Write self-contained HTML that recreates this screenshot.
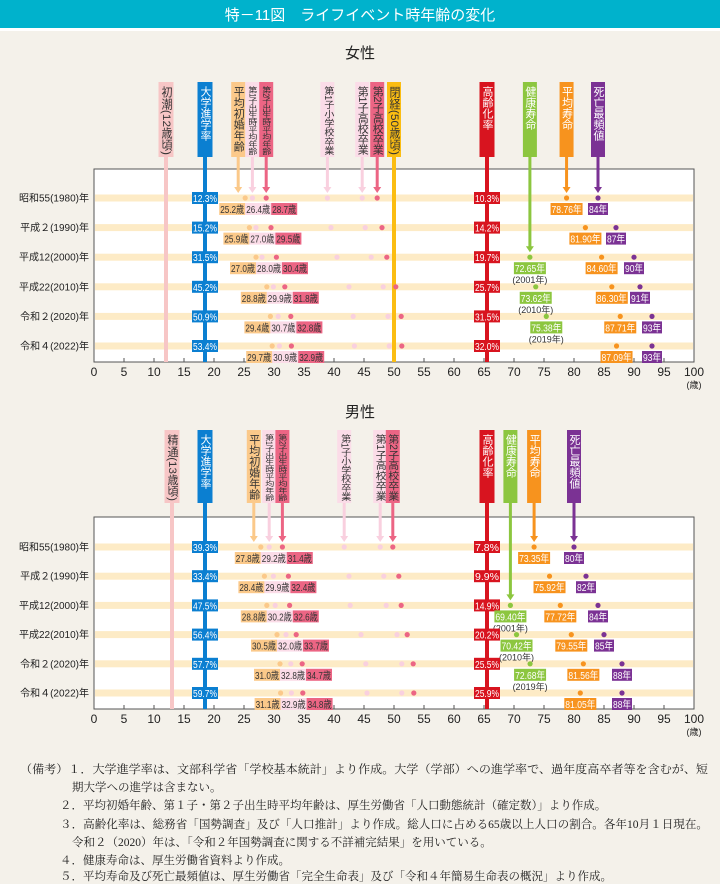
<!DOCTYPE html>
<html><head><meta charset="utf-8">
<style>
body{margin:0;background:#f4f1ea;}
svg{display:block;font-family:"Liberation Sans","Noto Sans CJK JP",sans-serif;}
.notes{font-family:"Liberation Serif","Noto Serif CJK SC",serif;}
</style></head>
<body>
<svg id="chart" width="720" height="884" viewBox="0 0 720 884" xmlns="http://www.w3.org/2000/svg">
<rect x="0" y="0" width="720" height="884" fill="#f4f1ea"/>
<rect x="0" y="0" width="720" height="28" fill="#00b2cc"/>
<rect x="0" y="28" width="720" height="3" fill="#ffffff"/>
<text x="360" y="20" text-anchor="middle" font-size="15" fill="#fff">特－11図　ライフイベント時年齢の変化</text>
<g id="panels"></g>
<g class="notes" font-size="11.5" fill="#222">
<text x="20" y="773" textLength="688" lengthAdjust="spacingAndGlyphs">（備考）１．大学進学率は、文部科学省「学校基本統計」より作成。大学（学部）への進学率で、過年度高卒者等を含むが、短</text>
<text x="72" y="791">期大学への進学は含まない。</text>
<text x="60" y="809">２．平均初婚年齢、第１子・第２子出生時平均年齢は、厚生労働省「人口動態統計（確定数）」より作成。</text>
<text x="60" y="828" textLength="648" lengthAdjust="spacingAndGlyphs">３．高齢化率は、総務省「国勢調査」及び「人口推計」より作成。総人口に占める65歳以上人口の割合。各年10月１日現在。</text>
<text x="72" y="846">令和２（2020）年は、「令和２年国勢調査に関する不詳補完結果」を用いている。</text>
<text x="60" y="864">４．健康寿命は、厚生労働省資料より作成。</text>
<text x="60" y="882" dy="-2">５．平均寿命及び死亡最頻値は、厚生労働省「完全生命表」及び「令和４年簡易生命表の概況」より作成。</text>
</g>
</svg>
<script>
const rowLabels = ["昭和55(1980)年","平成２(1990)年","平成12(2000)年","平成22(2010)年","令和２(2020)年","令和４(2022)年"];
const xTicks = [0,5,10,15,20,25,30,35,40,45,50,55,60,65,70,75,80,85,90,95,100];
const healthYears = [null,null,"(2001年)","(2010年)","(2019年)",null];

const fMarriage = [25.2,25.9,27.0,28.8,29.4,29.7];
const fFirst = [26.4,27.0,28.0,29.9,30.7,30.9];
const fSecond = [28.7,29.5,30.4,31.8,32.8,32.9];
const fPrimary = [38.9,39.5,40.5,42.5,43.2,43.4];
const fHigh1 = [44.7,45.2,46.2,48.2,49.0,49.2];
const fHigh2 = [47.2,48.0,48.8,50.3,51.2,51.3];
const fUniv = [12.3,15.2,31.5,45.2,50.9,53.4];
const fAging = [10.3,14.2,19.7,25.7,31.5,32.0];
const fHealth = [null,null,72.65,73.62,75.38,null];
const fLife = [78.76,81.90,84.60,86.30,87.71,87.09];
const fMode = [84,87,90,91,93,93];

const mMarriage = [27.8,28.4,28.8,30.5,31.0,31.1];
const mFirst = [29.2,29.9,30.2,32.0,32.8,32.9];
const mSecond = [31.4,32.4,32.6,33.7,34.7,34.8];
const mPrimary = [41.7,42.5,42.7,44.5,45.3,45.5];
const mHigh1 = [47.7,48.3,48.7,50.5,51.3,51.3];
const mHigh2 = [49.8,50.8,51.2,52.2,53.2,53.3];
const mUniv = [39.3,33.4,47.5,56.4,57.7,59.7];
const mAging = [7.8,9.9,14.9,20.2,25.5,25.9];
const mHealth = [null,null,69.40,70.42,72.68,null];
const mLife = [73.35,75.92,77.72,79.55,81.56,81.05];
const mMode = [80,82,84,85,88,88];

const NS="http://www.w3.org/2000/svg";
const root=document.getElementById('panels');
function el(tag,attrs,parent,text){const e=document.createElementNS(NS,tag);for(const k in attrs)e.setAttribute(k,attrs[k]);if(text!==undefined)e.textContent=text;(parent||root).appendChild(e);return e;}
const X0=94,X1=694;
function xs(v){return X0+(X1-X0)*v/100;}

function box(g,cx,cy,w,txt,bg,fg,name,anchor){
  const x = anchor==='right'?cx-w:(anchor==='left'?cx:cx-w/2);
  const r=el('rect',{x:x,y:cy-6,width:w,height:12,fill:bg},g);
  
  
  const t=el('text',{x:x+1,y:cy+4,'font-size':10,fill:fg,textLength:w-2,lengthAdjust:'spacingAndGlyphs'},g,txt);
  
  
}

function tag(g,cx,top,bot,label,bg,fg,w,fs,name){
  const r=el('rect',{x:cx-w/2,y:top,width:w,height:bot-top,fill:bg},g);
  
  
  const t=el('text',{x:cx,y:top+4,'font-size':fs,fill:fg,style:'writing-mode:vertical-rl;glyph-orientation-vertical:0','text-anchor':'start'},g,label);
  
  
  const len=label.length*fs;
  if(len>bot-top-6){t.setAttribute('textLength',bot-top-6);t.setAttribute('lengthAdjust','spacingAndGlyphs');}
}
function arrow(g,cx,y0,y1,color,name){
  const l=el('line',{x1:cx,y1:y0,x2:cx,y2:y1-5,stroke:color,'stroke-width':3},g);
  
  
  el('polygon',{points:`${cx-4},${y1-6} ${cx+4},${y1-6} ${cx},${y1}`,fill:color},g);
}

function panel(o){
  const g=el('g',{});
  
  
  const t=el('text',{x:360,y:o.titleY,'text-anchor':'middle','font-size':15,fill:'#222'},g,o.title);
  
  
  const pr=el('rect',{x:X0,y:o.top,width:X1-X0,height:o.bot-o.top,fill:'#fff',stroke:'#555','stroke-width':1},g);
  
  
  const rowY=i=>o.rowTop+i*o.rowStep;
  rowLabels.forEach((lab,i)=>{
    const b=el('rect',{x:X0+1,y:rowY(i)-3.5,width:X1-X0-2,height:7,fill:'#fdebc6'},g);
    
    
    const tt=el('text',{x:89,y:rowY(i)+3.5,'text-anchor':'end','font-size':10,fill:'#222'},g,lab);
    
    
  });
  xTicks.forEach(v=>{
    el('line',{x1:xs(v),y1:o.bot,x2:xs(v),y2:o.bot-4,stroke:'#555'},g);
    const tl=el('text',{x:xs(v),y:o.bot+14,'text-anchor':'middle','font-size':12,fill:'#222'},g,String(v));
    
    
  });
  const u=el('text',{x:xs(100),y:o.bot+26,'text-anchor':'middle','font-size':9,fill:'#222'},g,'(歳)');
  
  
  const ht=o.hTop,hb=o.hBot;
  const full=[[o.puberty,o.pubLabel,'#f7c6c6','#333','puberty',15],[18.5,'大学進学率','#0b7fd1','#fff','university',15]];
  if(o.meno) full.push([50,'閉経(50歳頃)','#fbbd12','#333','menopause',14]);
  full.push([65.5,'高齢化率','#d8141f','#fff','aging',15]);
  full.forEach(f=>{
    const l=el('line',{x1:xs(f[0]),y1:hb,x2:xs(f[0]),y2:o.bot,stroke:f[2],'stroke-width':4},g);
    
    
    tag(g,xs(f[0]),ht,hb,f[1],f[2],f[3],f[5],11,f[4]);
  });
  const arr=[
    [xs(o.marriage[0])-7,'平均初婚年齢','#fbc98a','#333','marriage',rowY(0)-5,11],
    [xs(o.first[0]),'第1子出生時平均年齢','#fbdce8','#333','first-birth',rowY(0)-5,9],
    [xs(o.second[0]),'第2子出生時平均年齢','#ec6584','#333','second-birth',rowY(0)-5,9],
    [xs(o.primary[0]),'第1子小学校卒業','#fbdce8','#333','first-primary',rowY(0)-5,10],
    [xs(o.high1[0]),'第1子高校卒業','#fbdce8','#333','first-high',rowY(0)-5,11],
    [xs(o.high2[0]),'第2子高校卒業','#ec6584','#333','second-high',rowY(0)-5,11],
    [xs(o.health[2]),'健康寿命','#8cc63f','#fff','healthy-life',rowY(2)-5,11],
    [xs(o.life[0]),'平均寿命','#f7931e','#fff','life-expectancy',rowY(0)-5,11],
    [xs(o.mode[0]),'死亡最頻値','#7b3294','#fff','mode-death',rowY(0)-5,11]
  ];
  arr.forEach(a=>{
    const c=(a[2]==='#fbdce8')?'#f9d0df':a[2];
    arrow(g,a[0],hb,a[5],c,a[4]);
    tag(g,a[0],ht,hb,a[1],a[2],a[3],14,a[6],a[4]);
  });
  rowLabels.forEach((lab,i)=>{
    const y=rowY(i);
    const dot=(v,c,n)=>{const d=el('circle',{cx:xs(v),cy:y,r:2.6,fill:c},g);};
    dot(o.marriage[i],'#fbc98a','marriage-dot');
    dot(o.first[i],'#f9d0df','first-birth-dot');
    dot(o.second[i],'#ec6584','second-birth-dot');
    dot(o.primary[i],'#f9d0df','first-primary-dot');
    dot(o.high1[i],'#f9d0df','first-high-dot');
    dot(o.high2[i],'#ec6584','second-high-dot');
    dot(o.life[i],'#f7931e','life-dot');
    dot(o.mode[i],'#7b3294','mode-dot');
    if(o.health[i]!=null) dot(o.health[i],'#8cc63f','healthy-dot');
    box(g,xs(18.5),y,26,o.univ[i].toFixed(1)+'%','#0b7fd1','#fff','university-value');
    box(g,xs(65.5),y,26,o.aging[i].toFixed(1)+'%','#d8141f','#fff','aging-value');
    const ly=y+11;
    const mx=xs(o.marriage[i]);
    box(g,mx,ly,26,o.marriage[i].toFixed(1)+'歳','#fbc98a','#333','marriage-value','right');
    box(g,mx,ly,26,o.first[i].toFixed(1)+'歳','#fbdce8','#333','first-birth-value','left');
    box(g,mx+26,ly,26,o.second[i].toFixed(1)+'歳','#ec6584','#333','second-birth-value','left');
    box(g,xs(o.life[i]),ly,32,o.life[i].toFixed(2)+'年','#f7931e','#fff','life-value');
    box(g,xs(o.mode[i]),ly,20,o.mode[i]+'年','#7b3294','#fff','mode-value');
    if(o.health[i]!=null){
      box(g,xs(o.health[i]),ly,32,o.health[i].toFixed(2)+'年','#8cc63f','#fff','healthy-value');
      const hy=el('text',{x:xs(o.health[i]),y:ly+15,'text-anchor':'middle','font-size':9,fill:'#333'},g,healthYears[i]||'');
      
      
    }
  });
}
panel({name:'female',title:'女性',titleY:58,top:169,bot:362,rowTop:198,rowStep:29.6,hTop:82,hBot:157,
  puberty:12,pubLabel:'初潮(12歳頃)',meno:true,marriage:fMarriage,first:fFirst,second:fSecond,primary:fPrimary,high1:fHigh1,high2:fHigh2,
  univ:fUniv,aging:fAging,health:fHealth,life:fLife,mode:fMode});
panel({name:'male',title:'男性',titleY:417,top:517,bot:709,rowTop:547,rowStep:29.2,hTop:430,hBot:503,
  puberty:13,pubLabel:'精通(13歳頃)',meno:false,marriage:mMarriage,first:mFirst,second:mSecond,primary:mPrimary,high1:mHigh1,high2:mHigh2,
  univ:mUniv,aging:mAging,health:mHealth,life:mLife,mode:mMode});
</script>
</body></html>
